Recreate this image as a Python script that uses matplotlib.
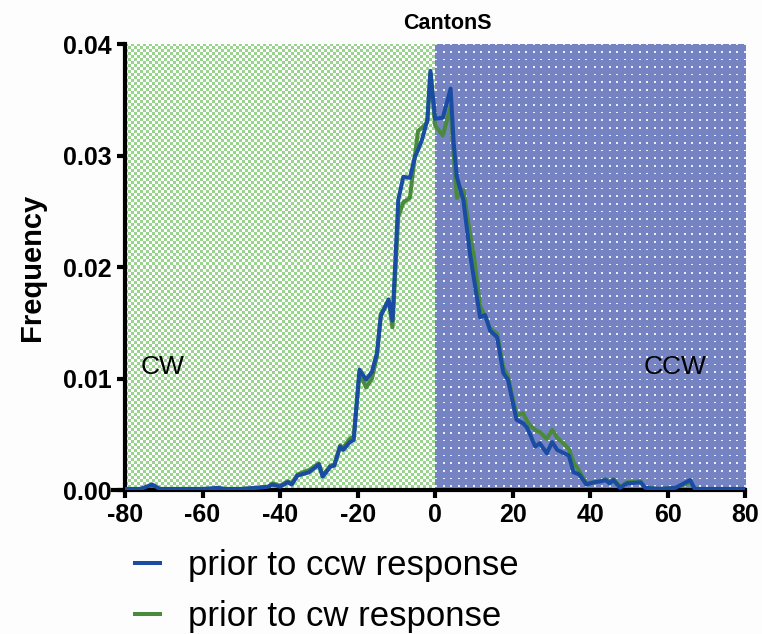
import numpy as np
import matplotlib
matplotlib.use('Agg')
import matplotlib.pyplot as plt

plt.rcParams['font.family'] = ['Liberation Sans', 'DejaVu Sans']
plt.rcParams['axes.unicode_minus'] = False

# angle bins (deg)
angle = [-80, -76, -73, -71, -65, -60, -56, -54, -50, -46, -43, -42, -40, -38, -37,
         -35.5, -32.5, -30, -29, -27, -26, -24.5, -23.7, -22, -21, -19.5, -17.8, -16.3,
         -15, -14, -12, -11, -9.5, -8.2, -6.5, -5.2, -4.4, -3.4, -2, -1.2, 0, 2, 4,
         4.8, 5.6, 7.3, 9, 10, 11.6, 12.9, 14.2, 16, 17.6, 18.8, 21, 22.7, 23.7, 24.5,
         25.8, 27, 28.8, 30.2, 31.5, 34.5, 35.7, 37.2, 39, 41, 43, 44, 45, 46, 47.7,
         49.5, 53, 54.2, 58, 62, 65.8, 67, 72, 80]

prior_ccw = [0.0001, 0.0001, 0.0005, 0.0001, 0.0001, 0.0001, 0.0002, 0.0001, 0.0001,
             0.0002, 0.0003, 0.0005, 0.0003, 0.0007, 0.0005, 0.0013, 0.0016, 0.0023,
             0.0012, 0.0021, 0.0022, 0.0039, 0.0036, 0.0043, 0.0045, 0.0108, 0.0099,
             0.0106, 0.0123, 0.0156, 0.0171, 0.0152, 0.0260, 0.0281, 0.0280, 0.0299,
             0.0305, 0.0314, 0.0332, 0.0376, 0.0333, 0.0334, 0.0360, 0.0311, 0.0281,
             0.0260, 0.0212, 0.0190, 0.0155, 0.0157, 0.0143, 0.0137, 0.0105, 0.0099,
             0.0063, 0.0060, 0.0056, 0.0050, 0.0039, 0.0042, 0.0033, 0.0043, 0.0036,
             0.0031, 0.0016, 0.0014, 0.0005, 0.0007, 0.0008, 0.0009, 0.0006, 0.0009,
             0.0002, 0.0006, 0.0007, 0.0002, 0.0001, 0.0002, 0.0009, 0.0001, 0.0001,
             0.0001]

prior_cw = [0.0001, 0.0001, 0.0003, 0.0001, 0.0001, 0.0001, 0.0001, 0.0001, 0.0001,
            0.0002, 0.0003, 0.0006, 0.0004, 0.0008, 0.0006, 0.0014, 0.0018, 0.0024,
            0.0013, 0.0022, 0.0023, 0.0040, 0.0038, 0.0046, 0.0048, 0.0105, 0.0092,
            0.0100, 0.0120, 0.0158, 0.0170, 0.0146, 0.0245, 0.0258, 0.0262, 0.0300,
            0.0322, 0.0325, 0.0330, 0.0374, 0.0327, 0.0318, 0.0344, 0.0300, 0.0262,
            0.0269, 0.0230, 0.0210, 0.0165, 0.0156, 0.0145, 0.0140, 0.0110, 0.0102,
            0.0067, 0.0069, 0.0062, 0.0058, 0.0054, 0.0052, 0.0046, 0.0054, 0.0047,
            0.0037, 0.0025, 0.0017, 0.0006, 0.0007, 0.0008, 0.0010, 0.0007, 0.0010,
            0.0003, 0.0007, 0.0008, 0.0002, 0.0001, 0.0002, 0.0007, 0.0001, 0.0001,
            0.0001]

xticks = [-80, -60, -40, -20, 0, 20, 40, 60, 80]
yticks = [0.00, 0.01, 0.02, 0.03, 0.04]

fig = plt.figure(figsize=(7.62, 6.34), dpi=100)
fig.patch.set_facecolor('#fdfdfd')
ax = fig.add_axes([0.164, 0.227, 0.814, 0.7035])

# background textures, one pixel per array cell
w, h = 310, 446
yy, xx = np.mgrid[0:h, 0:w]
green = np.ones((h, w, 3))
mask = ((xx // 3) + (yy // 3)) % 2 == 0
green[mask] = np.array([152, 212, 142]) / 255
ax.imshow(green, extent=(-80, 0, 0, 0.04), aspect='auto',
          interpolation='nearest', zorder=0)

blue = np.ones((h, w, 3)) * np.array([117, 131, 195]) / 255
dots = ((xx % 7.5) < 1.6) & ((yy % 7.6) < 1.6)
blue[dots] = np.array([236, 240, 250]) / 255
ax.imshow(blue, extent=(0, 80, 0, 0.04), aspect='auto',
          interpolation='nearest', zorder=0)

l_cw, = ax.plot(angle, prior_cw, color='#4a8a3c', lw=2.9, zorder=2,
                label='prior to cw response')
l_ccw, = ax.plot(angle, prior_ccw, color='#1a4ca3', lw=2.9, zorder=3,
                 label='prior to ccw response')

ax.set_xlim(-80, 80)
ax.set_ylim(0, 0.04)
ax.set_xticks(xticks)
ax.set_yticks(yticks)
ax.set_yticklabels(['%.2f' % v for v in yticks])
for s in ['top', 'right']:
    ax.spines[s].set_visible(False)
for s in ['left', 'bottom']:
    ax.spines[s].set_linewidth(3)
ax.spines['bottom'].set_bounds(-83, 80)
ax.tick_params(width=3, length=6, labelsize=18)
for lab in ax.get_xticklabels() + ax.get_yticklabels():
    lab.set_fontweight('bold')

ax.set_ylabel('Frequency', fontsize=21, fontweight='bold', labelpad=12)
ax.set_title('CantonS', fontsize=15.5, fontweight='bold', pad=11, x=0.52)

ax.text(-76, 0.011, 'CW', fontsize=19, va='center', ha='left')
ax.text(70, 0.011, 'CCW', fontsize=19, va='center', ha='right')

fig.legend(handles=[l_ccw, l_cw], loc='upper left', bbox_to_anchor=(0.177, 0.134),
           frameon=False, fontsize=25, handlelength=0.72, handletextpad=0.82,
           labelspacing=0.52, borderpad=0, borderaxespad=0)

fig.savefig('out.png', dpi=100, facecolor=fig.get_facecolor())
